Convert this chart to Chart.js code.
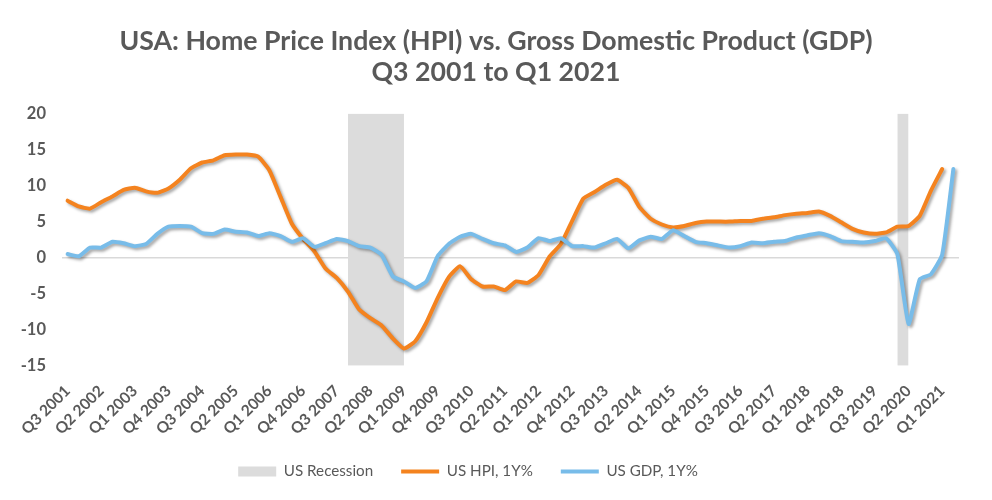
<!DOCTYPE html>
<html>
<head>
<meta charset="utf-8">
<script src="https://cdn.jsdelivr.net/npm/chart.js@4.4.1/dist/chart.umd.min.js"></script>
<style>
  html, body { margin: 0; padding: 0; background: #ffffff; }
  #wrap { width: 992px; height: 500px; }
</style>
</head>
<body>
<div id="wrap"><canvas id="c" width="992" height="500"></canvas></div>
<script>
const categories = [
  "Q3 2001","Q4 2001","Q1 2002","Q2 2002","Q3 2002","Q4 2002","Q1 2003","Q2 2003",
  "Q3 2003","Q4 2003","Q1 2004","Q2 2004","Q3 2004","Q4 2004","Q1 2005","Q2 2005",
  "Q3 2005","Q4 2005","Q1 2006","Q2 2006","Q3 2006","Q4 2006","Q1 2007","Q2 2007",
  "Q3 2007","Q4 2007","Q1 2008","Q2 2008","Q3 2008","Q4 2008","Q1 2009","Q2 2009",
  "Q3 2009","Q4 2009","Q1 2010","Q2 2010","Q3 2010","Q4 2010","Q1 2011","Q2 2011",
  "Q3 2011","Q4 2011","Q1 2012","Q2 2012","Q3 2012","Q4 2012","Q1 2013","Q2 2013",
  "Q3 2013","Q4 2013","Q1 2014","Q2 2014","Q3 2014","Q4 2014","Q1 2015","Q2 2015",
  "Q3 2015","Q4 2015","Q1 2016","Q2 2016","Q3 2016","Q4 2016","Q1 2017","Q2 2017",
  "Q3 2017","Q4 2017","Q1 2018","Q2 2018","Q3 2018","Q4 2018","Q1 2019","Q2 2019",
  "Q3 2019","Q4 2019","Q1 2020","Q2 2020","Q3 2020","Q4 2020","Q1 2021","Q2 2021"
];

const hpi = [
  7.9, 7.1, 6.8, 7.7, 8.5, 9.4, 9.7, 9.2,
  9.0, 9.6, 10.8, 12.4, 13.2, 13.5, 14.2, 14.3,
  14.3, 14.0, 12.1, 8.4, 4.7, 2.6, 0.9, -1.5,
  -2.8, -4.7, -7.2, -8.4, -9.4, -11.2, -12.6, -11.6,
  -9.0, -5.6, -2.7, -1.2, -3.0, -4.0, -4.0, -4.5,
  -3.3, -3.5, -2.4, 0.2, 1.9, 5.1, 8.2, 9.1,
  10.1, 10.8, 9.7, 7.0, 5.4, 4.6, 4.2, 4.4,
  4.8, 5.0, 5.0, 5.0, 5.1, 5.1, 5.4, 5.6,
  5.9, 6.1, 6.2, 6.4, 5.8, 4.9, 4.0, 3.5,
  3.3, 3.5, 4.3, 4.4, 5.8, 9.3, 12.3, null
];

const gdp = [
  0.5, 0.2, 1.4, 1.4, 2.2, 2.0, 1.6, 1.9,
  3.3, 4.3, 4.4, 4.3, 3.4, 3.3, 3.9, 3.6,
  3.5, 3.0, 3.4, 3.0, 2.2, 2.7, 1.5, 2.0,
  2.6, 2.3, 1.6, 1.4, 0.4, -2.6, -3.3, -4.2,
  -3.3, 0.2, 1.9, 2.9, 3.3, 2.6, 2.0, 1.7,
  0.8, 1.4, 2.7, 2.3, 2.7, 1.6, 1.6, 1.4,
  2.0, 2.6, 1.3, 2.4, 2.9, 2.6, 3.8, 3.0,
  2.2, 2.0, 1.7, 1.4, 1.6, 2.1, 2.0, 2.2,
  2.3, 2.8, 3.1, 3.4, 3.0, 2.3, 2.2, 2.1,
  2.3, 2.7, 0.5, -9.2, -3.0, -2.3, 0.4, 12.3
];

// Recession periods (shaded bands)
const recessionStart = ["Q4 2007", "Q1 2020"];
const recessionEnd   = ["Q1 2009", "Q2 2020"];
const recessionTop = 20;
const recessionBottom = -15;

const yTicks = [20, 15, 10, 5, 0, -5, -10, -15];

const recession = categories.map(function (c, i) {
  for (let k = 0; k < recessionStart.length; k++) {
    const a = categories.indexOf(recessionStart[k]);
    const b = categories.indexOf(recessionEnd[k]);
    if (i >= a && i <= b) return recessionTop;
  }
  return null;
});

const TEXT = '#595959';
const FONT = 'Lato, "Open Sans", sans-serif';

const shadowPlugin = {
  id: 'lineShadow',
  beforeDatasetDraw(chart, args) {
    if (args.index === 0) return;
    const ctx = chart.ctx;
    ctx.save();
    ctx.shadowColor = 'rgba(0,0,0,0.35)';
    ctx.shadowBlur = 3;
    ctx.shadowOffsetX = 2;
    ctx.shadowOffsetY = 2;
  },
  afterDatasetDraw(chart, args) {
    if (args.index === 0) return;
    chart.ctx.restore();
  }
};

// nudge the legend block left, as in the original layout
const legendShift = {
  id: 'legendShift',
  afterLayout(chart) {
    if (chart.legend) { chart.legend.right -= 56; chart.legend.width -= 56; }
  }
};

new Chart(document.getElementById('c'), {
  type: 'line',
  data: {
    labels: categories,
    datasets: [
      {
        label: 'US Recession',
        data: recession,
        backgroundColor: '#DCDCDC',
        borderColor: 'rgba(0,0,0,0)',
        borderWidth: 0,
        pointRadius: 0,
        pointStyle: 'rect',
        fill: { value: recessionBottom },
        spanGaps: false,
        order: 3
      },
      {
        label: 'US HPI, 1Y%',
        data: hpi,
        borderColor: '#F4831F',
        backgroundColor: '#F4831F',
        borderWidth: 4,
        borderCapStyle: 'round',
        borderJoinStyle: 'round',
        pointRadius: 0,
        pointStyle: 'line',
        tension: 0.15,
        fill: false,
        order: 2
      },
      {
        label: 'US GDP, 1Y%',
        data: gdp,
        borderColor: '#78BCE9',
        backgroundColor: '#78BCE9',
        borderWidth: 4,
        borderCapStyle: 'round',
        borderJoinStyle: 'round',
        pointRadius: 0,
        pointStyle: 'line',
        tension: 0.15,
        fill: false,
        order: 1
      }
    ]
  },
  options: {
    responsive: false,
    animation: false,
    layout: { padding: { left: 0, right: 0, top: 0, bottom: 11 } },
    plugins: {
      tooltip: { enabled: false },
      title: {
        display: true,
        text: ['USA: Home Price Index (HPI) vs. Gross Domestic Product (GDP)', 'Q3 2001 to Q1 2021'],
        color: TEXT,
        font: { family: FONT, size: 26.7, weight: 'bold', lineHeight: 1.17 },
        padding: { top: 26, bottom: 25 }
      },
      legend: {
        position: 'bottom',
        labels: {
          color: TEXT,
          font: { family: FONT, size: 15.2 },
          usePointStyle: true,
          pointStyleWidth: 38,
          boxHeight: 10,
          padding: 28,
          sort: function (a, b) { return a.datasetIndex - b.datasetIndex; }
        }
      }
    },
    scales: {
      x: {
        offset: true,
        grid: { display: false },
        border: { display: false },
        ticks: {
          autoSkip: false,
          maxRotation: 45,
          minRotation: 45,
          color: TEXT,
          padding: 8,
          font: { family: FONT, size: 15.5, weight: 'bold' },
          callback: function (v, i) { return i % 3 === 0 ? categories[i] : ''; }
        },
        afterFit: function (s) { s.height = 70; }
      },
      y: {
        min: recessionBottom,
        max: recessionTop,
        afterBuildTicks: function (s) { s.ticks = yTicks.map(function (v) { return { value: v }; }); },
        grid: {
          drawTicks: false,
          lineWidth: 1.5,
          color: function (ctx) { return ctx.tick && ctx.tick.value === 0 ? '#D9D9D9' : 'rgba(0,0,0,0)'; }
        },
        border: { display: false },
        ticks: {
          color: TEXT,
          padding: 16,
          font: { family: FONT, size: 16.5, weight: 'bold' }
        },
        afterFit: function (s) { s.width = 62; }
      },
      yRight: {
        position: 'right',
        display: true,
        grid: { display: false },
        border: { display: false },
        ticks: { display: false },
        afterFit: function (s) { s.width = 33; }
      }
    }
  },
  plugins: [shadowPlugin, legendShift]
});
</script>
</body>
</html>
